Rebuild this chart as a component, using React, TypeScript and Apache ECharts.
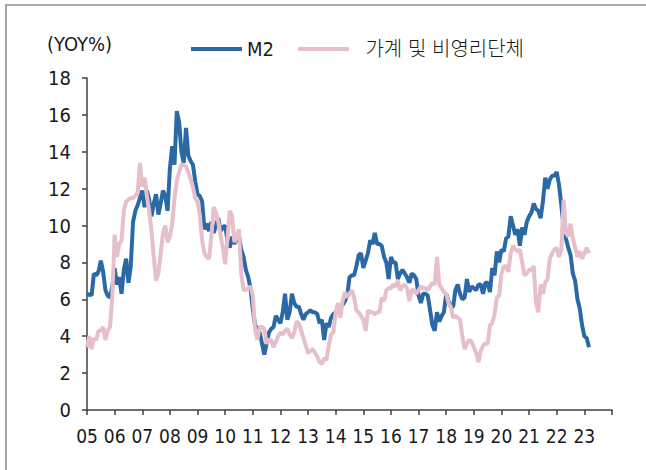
import React, { useEffect, useRef } from "react";
import * as echarts from "echarts";

const START_YEAR = 2005;
const X_TICKS_END = 2024;
const Y_MAX = 18;
const Y_STEP = 2;
const UNIT_LABEL = "(YOY%)";
const SERIES_NAMES = ["M2", "가계 및 비영리단체"];

// Monthly YoY growth, Jan 2005 – Mar 2023
const m2 = [
  6.2, 6.3, 6.2, 7.4, 7.3, 7.5, 8.1, 7.5, 6.5, 6.2, 6.1, 6.7,
  7.7, 6.8, 7.2, 6.3, 7.6, 8.2, 6.9, 7.8, 10.2, 10.8, 11.1, 11.5,
  11.9, 11.0, 11.9, 11.4, 10.5, 11.2, 11.7, 10.6, 11.2, 11.9, 11.6, 10.8,
  13.1, 14.3, 13.3, 16.2, 15.6, 14.0, 13.4, 15.3, 13.8, 13.5, 13.3, 12.4,
  11.7, 11.6, 11.3, 9.8, 10.1, 9.7, 10.2, 9.6, 10.0, 10.4, 9.7, 9.9,
  10.0, 9.2, 8.8, 9.4, 9.0, 9.3, 9.4, 8.7, 8.3, 7.6, 7.2, 6.6,
  5.5, 4.6, 4.4, 4.2, 3.6, 3.0, 3.6, 4.2, 4.4, 4.5, 5.1, 4.9,
  4.7, 5.3, 6.3, 4.9, 5.3, 6.3, 5.8, 5.6, 5.6, 5.2, 4.9, 5.2,
  5.3, 5.4, 5.3, 5.3, 5.2, 4.7, 4.9, 3.8, 4.7, 4.5, 5.0, 5.2,
  5.3, 5.5, 5.6, 5.7, 5.9, 6.2, 7.2, 7.3, 7.3, 7.8, 8.4, 8.5,
  7.7, 8.1, 8.5, 9.2, 9.0, 9.6, 9.0, 9.0, 8.9, 8.3, 8.0, 7.1,
  8.3, 8.0, 8.0, 7.1, 7.4, 7.6, 7.4, 7.2, 6.9, 7.4, 7.3, 7.1,
  6.2, 5.8, 6.3, 6.3, 6.2, 5.4, 4.6, 4.3, 5.3, 4.8, 5.1, 5.3,
  6.3, 5.9, 5.6, 5.6, 6.5, 6.8, 6.3, 6.0, 6.1, 7.1, 6.4, 6.7,
  6.6, 6.5, 6.8, 6.8, 6.3, 6.9, 6.9, 6.4, 7.7, 7.3, 8.6, 8.0,
  8.7, 8.6, 9.3, 9.4, 10.5, 10.0, 9.5, 9.8, 8.9, 9.9, 9.5, 10.2,
  10.5, 10.7, 11.2, 10.9, 10.8, 10.4, 11.3, 12.6, 12.0, 12.5, 12.7, 12.7,
  12.9, 12.2, 11.1, 9.9, 9.3, 8.8, 8.4, 7.4, 7.0, 6.0, 5.5, 4.6,
  4.0, 3.9, 3.4,
];

const household = [
  3.4, 4.0, 3.3, 3.9, 3.8, 4.3, 4.3, 4.5, 3.8, 4.3, 4.5, 6.2,
  9.5, 8.3, 9.0, 9.2, 10.8, 11.3, 11.4, 11.5, 11.5, 11.6, 11.8, 13.4,
  12.1, 12.6, 11.6, 10.8, 9.7, 8.3, 7.0, 7.4, 8.5, 9.6, 10.0, 9.1,
  9.4, 10.1, 11.5, 12.4, 12.9, 13.3, 13.3, 13.2, 12.9, 12.5, 12.1, 11.5,
  11.3, 10.6, 9.2, 8.5, 8.3, 8.2, 9.4, 11.0, 10.7, 10.2, 9.5, 8.8,
  7.9, 9.3, 10.8, 10.5, 9.1, 9.4, 9.8, 7.4, 6.5, 6.5, 6.6, 6.7,
  6.2, 4.4, 3.8, 4.5, 4.5, 4.4, 3.6, 3.8, 3.8, 3.4, 3.7, 4.0,
  4.2, 4.1, 4.3, 4.4, 4.1, 3.9, 4.2, 4.8, 4.7, 4.3, 3.9, 3.5,
  3.1, 3.2, 3.3, 3.1, 2.9, 2.6, 2.5, 2.8, 2.7, 3.5, 4.1, 4.2,
  5.3, 5.8, 5.0, 5.9, 6.4, 6.1, 6.3, 6.5, 6.1, 5.4, 5.3, 5.1,
  4.9, 4.3, 5.4, 5.3, 5.3, 5.2, 5.3, 5.3, 6.1, 5.9, 6.5, 6.6,
  6.6, 6.8, 6.7, 7.0, 6.5, 6.7, 6.8, 6.6, 5.9, 6.5, 6.5, 6.3,
  6.5, 6.7, 6.6, 6.6, 6.5, 6.7, 6.9, 6.8, 8.3, 6.8, 6.6, 6.4,
  6.3, 5.8, 5.6, 5.0, 5.1, 5.0, 4.9, 4.0, 3.3, 3.6, 3.8, 3.7,
  3.4, 3.1, 2.6, 3.2, 3.5, 3.6, 3.6, 4.6, 4.7, 5.2, 6.1, 6.2,
  7.4, 7.8, 7.8, 7.5, 8.5, 8.9, 8.7, 8.6, 8.7, 8.0, 7.3, 7.4,
  7.6, 7.6, 7.8, 5.8, 5.3, 6.8, 6.3, 6.9, 7.1, 8.2, 8.5, 8.7,
  8.8, 8.3, 8.7, 11.4, 9.6, 9.4, 10.1, 9.3, 8.8, 8.3, 8.6, 8.2,
  8.5, 8.8, 8.5,
];

const toPoints = (vals: number[]) =>
  vals.map((v, i) => [START_YEAR + i / 12, v]);

const FONT = "'Liberation Sans Narrow', 'DejaVu Sans Condensed', 'Noto Sans CJK KR', sans-serif";
const TEXT_COLOR = "#1a1a1a";
const AXIS_COLOR = "#404040";

export default function App() {
  const ref = useRef<HTMLDivElement>(null);

  useEffect(() => {
    if (!ref.current) return;
    const chart = echarts.init(ref.current, null, { renderer: "svg" });
    chart.setOption({
      animation: false,
      backgroundColor: "#ffffff",
      textStyle: { fontFamily: FONT },
      grid: { left: 87, right: 34, top: 78, bottom: 60, containLabel: false },
      legend: {
        left: 186,
        top: 34,
        itemWidth: 51,
        itemHeight: 4,
        itemGap: 24,
        icon: "rect",
        textStyle: { fontFamily: FONT, fontSize: 20, fontWeight: 300, color: TEXT_COLOR },
        formatter: (name: string) => (name === SERIES_NAMES[1] ? "  " + name : name),
        data: SERIES_NAMES,
      },
      graphic: [
        {
          type: "text",
          left: 47,
          top: 34,
          style: { text: UNIT_LABEL, font: `300 20px ${FONT}`, fill: TEXT_COLOR },
        },
        {
          type: "line",
          shape: { x1: 5, y1: 5, x2: 646, y2: 5 },
          style: { stroke: "#a8a8a8", lineWidth: 2 },
        },
        {
          type: "line",
          shape: { x1: 6, y1: 5, x2: 6, y2: 470 },
          style: { stroke: "#a8a8a8", lineWidth: 2 },
        },
      ],
      xAxis: {
        type: "value",
        min: START_YEAR,
        max: X_TICKS_END,
        interval: 1,
        axisLine: { show: true, lineStyle: { color: AXIS_COLOR, width: 1.5 } },
        axisTick: { show: true, length: 5, lineStyle: { color: AXIS_COLOR, width: 1.5 } },
        splitLine: { show: false },
        axisLabel: {
          fontFamily: FONT,
          fontSize: 19,
          fontWeight: 300,
          color: TEXT_COLOR,
          margin: 16,
          showMaxLabel: true,
          formatter: (v: number) => (v >= X_TICKS_END ? "" : String(v).slice(2)),
        },
      },
      yAxis: {
        type: "value",
        min: 0,
        max: Y_MAX,
        interval: Y_STEP,
        axisLine: { show: true, lineStyle: { color: AXIS_COLOR, width: 1.5 } },
        axisTick: { show: true, length: 5, lineStyle: { color: AXIS_COLOR, width: 1.5 } },
        splitLine: { show: false },
        axisLabel: { fontFamily: FONT, fontSize: 20, fontWeight: 300, color: TEXT_COLOR, margin: 16 },
      },
      series: [
        {
          name: SERIES_NAMES[0],
          type: "line",
          data: toPoints(m2),
          showSymbol: false,
          symbol: "none",
          color: "#2a69a6",
          lineStyle: { width: 4, color: "#2a69a6" },
        },
        {
          name: SERIES_NAMES[1],
          type: "line",
          data: toPoints(household),
          showSymbol: false,
          symbol: "none",
          color: "#e6bfcb",
          lineStyle: { width: 4, color: "#e6bfcb" },
        },
      ],
    });
    return () => chart.dispose();
  }, []);

  return (
    <div
      ref={ref}
      style={{ position: "fixed", left: 0, top: 0, width: 646, height: 470 }}
    />
  );
}
